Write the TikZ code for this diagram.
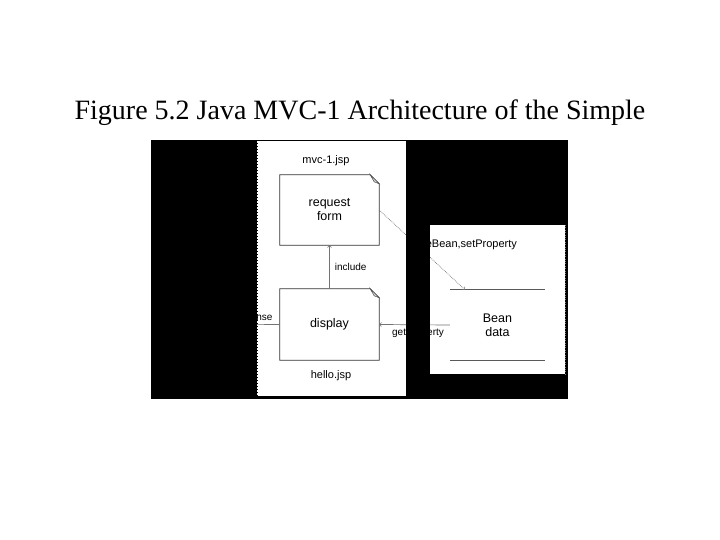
\documentclass[tikz,border=0pt]{standalone}
\usepackage{fontspec}
\setmainfont{Liberation Serif}
\setsansfont{Liberation Sans}
\usetikzlibrary{positioning}
\begin{document}
\begin{tikzpicture}[x=1pt,y=-1pt,
  page/.style={minimum width=99pt,minimum height=70pt,inner sep=0pt,align=center,
    font=\sffamily\fontsize{12.5}{14}\selectfont},
  lbl/.style={inner sep=0pt,font=\sffamily\fontsize{10}{12}\selectfont},
  link/.style={draw=gray!90!black,line width=0.7pt}]
\useasboundingbox[fill=white] (0,0) rectangle (720,540);
\node[anchor=base,font=\fontsize{28}{32}\selectfont] (title) at (360,120)
  {Figure 5.2 Java MVC-1 Architecture of the Simple};
% panels
\fill[black] (151,140) rectangle (568,399);
\fill[white] (257,141) rectangle (406,396);
\fill[white] (430,225) rectangle (565,374);
\draw[dotted,line width=1pt] (257,396) -- (257,141) -- (406,141);
\draw[dotted,gray] (565,225) -- (565,374);
% jsp pages
\node[lbl,font=\sffamily\fontsize{11}{13}\selectfont] (mvc) at (326,161) {mvc-1.jsp};
\node[page] (req) at (329.5,210) {request\\form};
\node[page,minimum height=71pt] (disp) at (329.5,324.5) {display};
\node[lbl,font=\sffamily\fontsize{11}{13}\selectfont] (hello) at (331,376) {hello.jsp};
\foreach \b in {req,disp} {
  \draw[line width=0.8pt,black!80] (\b.north west) -- ([xshift=-9pt]\b.north east)
    -- ([yshift=-9pt]\b.north east) -- (\b.south east) -- (\b.south west) -- cycle;
  \filldraw[fill=gray!30,draw=black!70,line width=0.5pt] ([xshift=-9pt]\b.north east)
    -- ([xshift=-5pt,yshift=-7pt]\b.north east) -- ([yshift=-9pt]\b.north east) -- cycle;
}
% bean
\node[page,minimum width=95pt] (bean) at (497.5,325) {Bean\\data};
\draw[gray!70!black,line width=0.7pt] (bean.north west) -- (bean.north east);
\draw[gray!70!black,line width=0.7pt] (bean.south west) -- (bean.south east);
\coordinate (client) at (200,325);
\coordinate (setp) at ([xshift=-32.5pt]bean.north);
% connectors, hidden where the panels end
\begin{scope}
\clip (257,141) rectangle (406,396) (430,225) rectangle (565,374);
\draw[link,->] (disp) -- (req) node[lbl,midway,right=5pt] (inc) {include};
\draw[link,->] (bean.west) -- (disp.east) node[lbl,pos=0.45,below=3pt] (get) {getProperty};
\draw[link,->] (disp.west) -- (client) node[lbl,pos=0.35,above=2pt] (resp) {response};
\draw[link,densely dotted,->] (req.east) -- (setp);
\node[lbl,anchor=west,font=\sffamily\fontsize{11}{13}\selectfont] (use) at (414,245)
  {useBean,setProperty};
\end{scope}
\end{tikzpicture}
\end{document}
